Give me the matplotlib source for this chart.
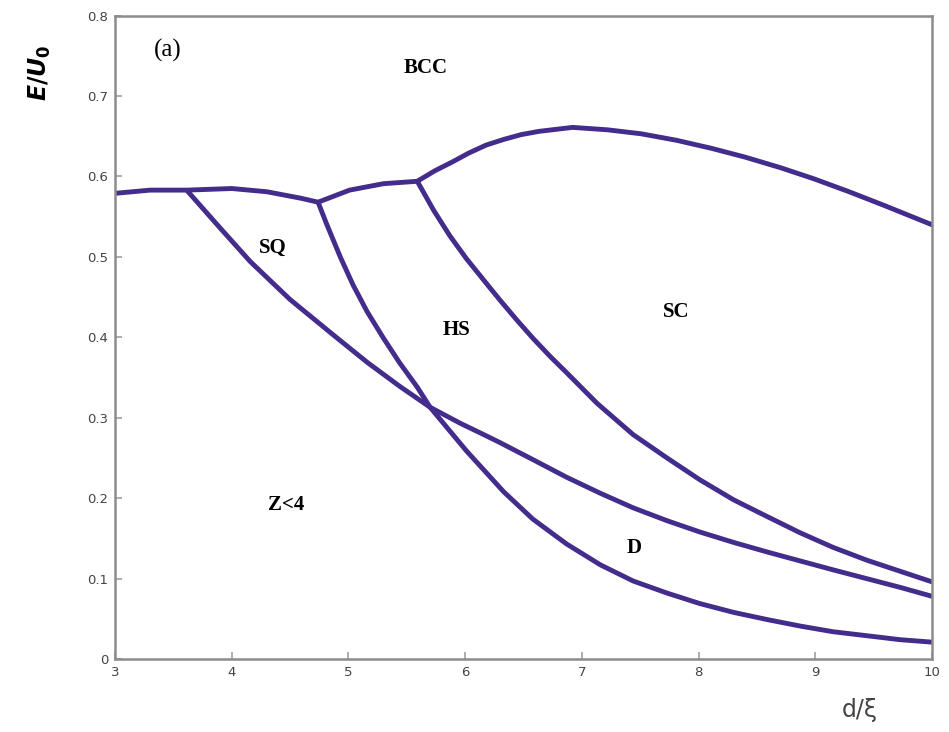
import matplotlib
matplotlib.use("Agg")
import matplotlib.pyplot as plt

# ---- data ----
# BCC boundary (top curve)
bcc_x = [3.0, 3.3, 3.62, 4.0, 4.3, 4.59, 4.74, 5.01, 5.30, 5.59, 5.74, 5.89, 6.03, 6.18, 6.33, 6.48, 6.63, 6.92,
         7.22, 7.51, 7.81, 8.11, 8.40, 8.70, 8.99, 9.29, 9.59, 9.88, 10.0]
bcc_y = [0.579, 0.583, 0.583, 0.585, 0.581, 0.573, 0.568, 0.583, 0.591, 0.594, 0.607, 0.618, 0.629, 0.639, 0.646,
         0.652, 0.656, 0.661, 0.658, 0.653, 0.645, 0.635, 0.624, 0.611, 0.597, 0.581, 0.564, 0.547, 0.540]

# SQ / Z<4 boundary, continuing to the right edge
b_x = [3.62, 3.9, 4.16, 4.50, 4.87, 5.16, 5.44, 5.70, 5.96, 6.16, 6.30, 6.58, 6.87, 7.16, 7.44, 7.73,
       8.01, 8.30, 8.59, 8.87, 9.15, 9.44, 9.73, 10.0]
b_y = [0.582, 0.536, 0.494, 0.447, 0.403, 0.369, 0.339, 0.313, 0.293, 0.279, 0.269, 0.248, 0.226, 0.206,
       0.188, 0.172, 0.158, 0.145, 0.133, 0.122, 0.111, 0.100, 0.089, 0.078]

# SQ / HS boundary, continuing to the right edge
c_x = [4.74, 4.81, 4.93, 5.04, 5.16, 5.30, 5.44, 5.59, 5.70, 6.01, 6.33, 6.58, 6.87, 7.16, 7.44, 7.73,
       8.01, 8.30, 8.59, 8.87, 9.15, 9.44, 9.73, 10.0]
c_y = [0.568, 0.542, 0.500, 0.465, 0.432, 0.399, 0.368, 0.338, 0.313, 0.259, 0.208, 0.174, 0.143, 0.117,
       0.097, 0.082, 0.069, 0.058, 0.049, 0.041, 0.034, 0.029, 0.024, 0.021]

# HS / SC boundary
d_x = [5.59, 5.73, 5.87, 6.01, 6.16, 6.30, 6.44, 6.58, 6.73, 6.87, 7.13, 7.44, 7.73, 8.01, 8.30, 8.59,
       8.87, 9.15, 9.44, 9.73, 10.0]
d_y = [0.594, 0.558, 0.526, 0.498, 0.471, 0.446, 0.422, 0.399, 0.376, 0.356, 0.318, 0.279, 0.250, 0.223,
       0.198, 0.177, 0.157, 0.139, 0.123, 0.109, 0.096]

x_ticks = [3, 4, 5, 6, 7, 8, 9, 10]
y_ticks = [0, 0.1, 0.2, 0.3, 0.4, 0.5, 0.6, 0.7, 0.8]
y_tick_labels = ["0", "0.1", "0.2", "0.3", "0.4", "0.5", "0.6", "0.7", "0.8"]

region_labels = ["(a)", "BCC", "SQ", "HS", "SC", "Z<4", "D"]
region_x = [3.45, 5.66, 4.35, 5.93, 7.81, 4.47, 7.45]
region_y = [0.757, 0.735, 0.511, 0.409, 0.432, 0.192, 0.138]

# ---- drawing ----
plt.rcParams['mathtext.fontset'] = 'custom'
plt.rcParams['mathtext.it'] = 'DejaVu Sans:italic:bold'
plt.rcParams['mathtext.rm'] = 'DejaVu Sans:bold'

fig = plt.figure(figsize=(9.49, 7.32), dpi=100)
ax = fig.add_axes([0.1212, 0.0997, 0.8608, 0.8790])

line_color = "#432c8c"
for xs, ys in [(bcc_x, bcc_y), (b_x, b_y), (c_x, c_y), (d_x, d_y)]:
    ax.plot(xs, ys, color=line_color, lw=3.5, solid_joinstyle='round', solid_capstyle='round')

ax.set_xlim(3, 10)
ax.set_ylim(0, 0.8)
ax.set_xticks(x_ticks)
ax.set_xticklabels([str(t) for t in x_ticks])
ax.set_yticks(y_ticks)
ax.set_yticklabels(y_tick_labels)
ax.tick_params(direction='in', length=5, width=1.2, color='#a0a0a0',
               labelsize=9.5, labelcolor='#444444', pad=5)
for s in ax.spines.values():
    s.set_color('#8c8c8c')
    s.set_linewidth(1.8)

for lab, x, y in zip(region_labels, region_x, region_y):
    if lab == "(a)":
        ax.text(x, y, lab, fontsize=18, family='Liberation Serif', ha='center', va='center')
    else:
        ax.text(x, y, lab, fontsize=15, family='Liberation Serif', weight='bold',
                ha='center', va='center')

fig.text(0.042, 0.90, r'$E/U_0$', rotation=90, fontsize=17, ha='center', va='center')
fig.text(0.906, 0.030, 'd/\u03be', fontsize=17, ha='center', va='center', color='#444444',
         family='DejaVu Sans')

fig.savefig("out.png", dpi=100)
